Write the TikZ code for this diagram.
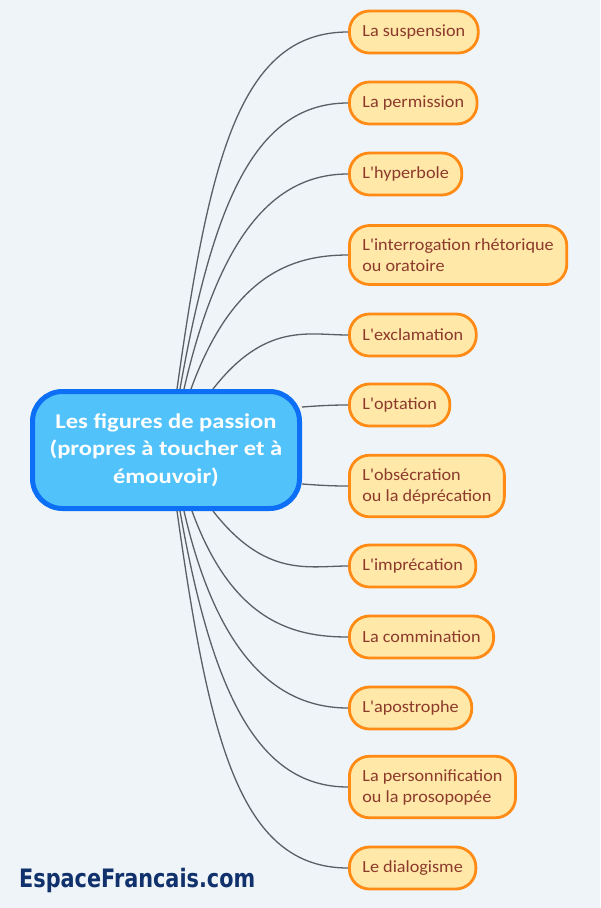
\documentclass[tikz,border=0pt]{standalone}
\usepackage{fontspec}
\usepackage{graphicx}
\setmainfont{Carlito}[FakeStretch=1.07, Ligatures=TeXOff]
\newfontfamily\titlefont{Carlito}[FakeStretch=1.17]
\newfontfamily\logofont[FakeStretch=0.82]{DejaVu Sans}
\definecolor{paper}{RGB}{239, 244, 249}
\definecolor{rootfill}{RGB}{82, 194, 250}
\definecolor{rootline}{RGB}{12, 111, 245}
\definecolor{leaffill}{RGB}{255, 232, 168}
\definecolor{leafline}{RGB}{255, 138, 20}
\definecolor{leaftext}{RGB}{140, 58, 44}
\definecolor{branchgray}{RGB}{90, 95, 102}
\definecolor{logoblue}{RGB}{16, 49, 107}

\tikzset{
  rootbox/.style={draw=rootline, line width=5pt, fill=rootfill, rounded corners=30pt,
    minimum width=267pt, minimum height=117pt, align=center, text=white,
    font=\titlefont\fontsize{21}{27.5}\selectfont\bfseries},
  leafbox/.style={draw=leafline, line width=2.8pt, fill=leaffill, rounded corners=20pt,
    minimum height=42pt, inner xsep=13pt, inner ysep=13pt, align=left, anchor=west,
    text=leaftext, font=\fontsize{17}{21}\selectfont},
  branch/.style={branchgray, line width=1.3pt}
}

\begin{document}
\begin{tikzpicture}[x=1pt, y=1pt]
      % Page and background
      \fill[paper] (0,0) rectangle (600,-908);
      \useasboundingbox (0,0) rectangle (600,-908);
      % Central topic
      \node[rootbox] (root) at (166,-450) {Les figures de passion\\(propres à toucher et à\\émouvoir)};
      % Subtopics
      \foreach \i/\cy/\lbl in {
        1/32/La suspension,
        2/103/La permission,
        3/174/L'hyperbole,
        4/255/{L'interrogation rhétorique\\ou oratoire},
        5/335/L'exclamation,
        6/405/L'optation,
        7/486/{L'obsécration\\ou la déprécation},
        8/566/L'imprécation,
        9/637/La commination,
        10/708/L'apostrophe,
        11/787/{La personnification\\ou la prosopopée},
        12/868/Le dialogisme%
      }{
        \node[leafbox] (l\i) at (348,-\cy) {\lbl};
      }
      % Branches above and below
      \foreach \i/\dx/\ang in {1/11/82, 2/14/80, 3/18/77, 4/25/70, 5/47/52}
        \draw[branch] ([xshift=\dx]root.north) to[out=\ang, in=180, out looseness=1.5, in looseness=0.7] (l\i.west);
      \foreach \i/\dx/\ang in {8/47/52, 9/26/70, 10/18/77, 11/14/80, 12/11/82}
        \draw[branch] ([xshift=\dx]root.south) to[out=-\ang, in=180, out looseness=1.5, in looseness=0.7] (l\i.west);
      \draw[branch] ([yshift=43]root.east) to[out=4, in=180] (l6.west);
      \draw[branch] ([yshift=-34]root.east) to[out=-4, in=180] (l7.west);
      % Logo
      \node[anchor=west, text=logoblue, inner sep=0pt] (logo) at (19,-880)
        {\resizebox{236pt}{!}{\logofont\bfseries EspaceFrancais.com}};
\end{tikzpicture}
\end{document}
